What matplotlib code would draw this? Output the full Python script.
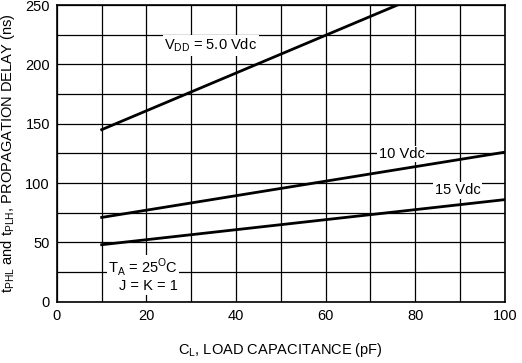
import matplotlib
matplotlib.use("Agg")
import matplotlib.pyplot as plt
import numpy as np

# data
cl_5v = [10, 76]
td_5v = [145, 250]
cl_10v = [10, 100]
td_10v = [71, 126]
cl_15v = [10, 100]
td_15v = [48, 86]

x_ticks = [0, 20, 40, 60, 80, 100]
y_ticks = [0, 50, 100, 150, 200, 250]

plt.rcParams['font.family'] = ['Liberation Sans', 'DejaVu Sans']
plt.rcParams['mathtext.fontset'] = 'custom'
plt.rcParams['mathtext.rm'] = 'Liberation Sans'

fig = plt.figure(figsize=(5.22, 3.63), dpi=100)
ax = fig.add_axes([0.109, 0.169, 0.858, 0.817])

ax.set_xlim(0, 100)
ax.set_ylim(0, 250)
ax.set_xticks(x_ticks)
ax.set_yticks(y_ticks)
ax.set_xticks(np.arange(0, 101, 10), minor=True)
ax.set_yticks(np.arange(0, 251, 25), minor=True)
ax.grid(True, which='both', color='black', lw=0.9)
ax.tick_params(which='both', length=0, labelsize=10.5, pad=5)
for s in ax.spines.values():
    s.set_linewidth(1.2)

ax.plot(cl_5v, td_5v, color='black', lw=2, zorder=3)
ax.plot(cl_10v, td_10v, color='black', lw=2, zorder=3)
ax.plot(cl_15v, td_15v, color='black', lw=2, zorder=3)

box = dict(facecolor='white', edgecolor='none', pad=1)
ax.text(24, 216, r"V$_{\rm DD}$ = 5.0 Vdc", fontsize=10.5, va='center', ha='left', bbox=box, zorder=4)
ax.text(77, 124.5, "10 Vdc", fontsize=10.5, va='center', ha='center', bbox=box, zorder=4)
ax.text(89.5, 94, "15 Vdc", fontsize=10.5, va='center', ha='center', bbox=box, zorder=4)
ax.text(27, 29, r"T$_{\rm A}$ = 25$^{\rm O}$C", fontsize=10.5, va='center', ha='right', bbox=box, zorder=4)
ax.text(27, 13, "J = K = 1", fontsize=10.5, va='center', ha='right', bbox=box, zorder=4)

ax.set_xlabel(r"C$_{\rm L}$, LOAD CAPACITANCE (pF)", fontsize=10.5, labelpad=13)
ax.set_ylabel(r"t$_{\rm PHL}$ and t$_{\rm PLH}$, PROPAGATION DELAY (ns)", fontsize=10.5, labelpad=6)

fig.savefig("out.png", dpi=100)
